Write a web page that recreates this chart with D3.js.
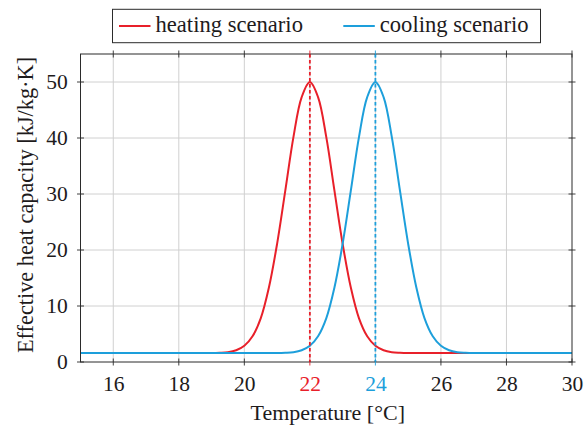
<!DOCTYPE html>
<html>
<head>
<meta charset="utf-8">
<script src="https://cdn.jsdelivr.net/npm/d3@7/dist/d3.min.js"></script>
<style>
  html, body { margin: 0; padding: 0; background: #fff; }
  svg { display: block; }
</style>
</head>
<body>
<svg id="chart" width="584" height="427" font-family="Liberation Serif"></svg>
<script>
// Temperature samples [°C], 0.25 K apart
const temperatures = d3.range(15, 30.0001, 0.25);

// Effective heat capacity [kJ/kg·K] for each temperature sample
const heatingCapacity = [
  1.6, 1.6, 1.6, 1.6, 1.6, 1.6, 1.6, 1.6, 1.6, 1.6, 1.6, 1.6, 1.6, 1.6, 1.6, 1.6, 1.6,
  1.65, 1.76, 2.1, 2.9, 4.6, 7.8, 13.3, 21.1, 30.6, 40.2, 47.3,
  50,
  47.3, 40.2, 30.6, 21.1, 13.3, 7.8, 4.6, 2.9, 2.1, 1.76, 1.65,
  1.6, 1.6, 1.6, 1.6, 1.6, 1.6, 1.6, 1.6, 1.6, 1.6, 1.6, 1.6, 1.6, 1.6, 1.6, 1.6, 1.6, 1.6, 1.6, 1.6, 1.6
];
const coolingCapacity = [
  1.6, 1.6, 1.6, 1.6, 1.6, 1.6, 1.6, 1.6, 1.6, 1.6, 1.6, 1.6, 1.6, 1.6, 1.6, 1.6, 1.6,
  1.6, 1.6, 1.6, 1.6, 1.6, 1.6, 1.6, 1.6,
  1.65, 1.76, 2.1, 2.9, 4.6, 7.8, 13.3, 21.1, 30.6, 40.2, 47.3,
  50,
  47.3, 40.2, 30.6, 21.1, 13.3, 7.8, 4.6, 2.9, 2.1, 1.76, 1.65,
  1.6, 1.6, 1.6, 1.6, 1.6, 1.6, 1.6, 1.6, 1.6, 1.6, 1.6, 1.6, 1.6
];

// Peak temperatures of the two scenarios
const heatingPeak = 22;
const coolingPeak = 24;

const xTicks = [16, 18, 20, 22, 24, 26, 28, 30];
const yTicks = [0, 10, 20, 30, 40, 50];
const seriesNames = ["heating scenario", "cooling scenario"];

const red = "#e8202a";
const blue = "#1d9fdb";
const frame = "#2b2b2b";
const ink = "#1e1b1c";
const FONT = "Liberation Serif";

const svg = d3.select("#chart");
const plotLeft = 80.5, plotRight = 572, plotTop = 54, plotBottom = 362;

const x = d3.scaleLinear().domain([15, 30]).range([plotLeft, plotRight]);
const y = d3.scaleLinear().domain([0, 55]).range([plotBottom, plotTop]);

// grid
const grid = svg.append("g").attr("stroke", "#d0d0d0").attr("stroke-width", 1);
grid.selectAll(".gx").data(xTicks.filter(t => t < 30)).join("line")
  .attr("x1", d => x(d)).attr("x2", d => x(d)).attr("y1", plotTop).attr("y2", plotBottom);
grid.selectAll(".gy").data(yTicks.filter(t => t > 0)).join("line")
  .attr("x1", plotLeft).attr("x2", plotRight).attr("y1", d => y(d)).attr("y2", d => y(d));

// curves
const line = d3.line()
  .x((d, i) => x(temperatures[i]))
  .y(d => y(d))
  .curve(d3.curveCatmullRom.alpha(0.5));

svg.append("path").datum(heatingCapacity)
  .attr("d", line).attr("fill", "none").attr("stroke", red).attr("stroke-width", 2);
svg.append("path").datum(coolingCapacity)
  .attr("d", line).attr("fill", "none").attr("stroke", blue).attr("stroke-width", 2);

// peak markers
[[heatingPeak, red], [coolingPeak, blue]].forEach(([t, c]) => {
  svg.append("line")
    .attr("x1", x(t)).attr("x2", x(t)).attr("y1", plotTop).attr("y2", plotBottom)
    .attr("stroke", c).attr("stroke-width", 1.8).attr("stroke-dasharray", "3.6,2.4");
});

// frame
svg.append("rect")
  .attr("x", plotLeft).attr("y", plotTop).attr("width", plotRight - plotLeft).attr("height", plotBottom - plotTop)
  .attr("fill", "none").attr("stroke", frame).attr("stroke-width", 1);

// axes
const tickColor = (t) => t === heatingPeak ? red : (t === coolingPeak ? blue : frame);
const xAxisB = d3.axisBottom(x).tickValues(xTicks).tickSize(0).tickPadding(13.5).tickFormat(d3.format("d"));
const gxb = svg.append("g").attr("transform", `translate(0,${plotBottom})`).call(xAxisB)
  .attr("font-family", FONT).attr("font-size", 21.5);
gxb.select(".domain").remove();
gxb.selectAll("text").attr("fill", d => d === heatingPeak ? red : (d === coolingPeak ? blue : ink));

const yAxisL = d3.axisLeft(y).tickValues(yTicks).tickSize(0).tickPadding(12.8).tickFormat(d3.format("d"));
const gyl = svg.append("g").attr("transform", `translate(${plotLeft},0)`).call(yAxisL)
  .attr("font-family", FONT).attr("font-size", 21.5);
gyl.select(".domain").remove();
gyl.selectAll("text").attr("fill", ink);

// tick marks crossing the frame on all sides
const tk = svg.append("g").attr("stroke", frame).attr("stroke-width", 0.9);
xTicks.forEach(t => {
  [plotTop, plotBottom].forEach(yy => {
    tk.append("line").attr("x1", x(t)).attr("x2", x(t)).attr("y1", yy - 3.5).attr("y2", yy + 3.5)
      .attr("stroke", tickColor(t));
  });
});
yTicks.forEach(t => {
  [plotLeft, plotRight].forEach(xx => {
    tk.append("line").attr("x1", xx - 3.5).attr("x2", xx + 3.5).attr("y1", y(t)).attr("y2", y(t));
  });
});

// axis titles
svg.append("text").attr("x", (plotLeft + plotRight) / 2 + 1.5).attr("y", 419.5)
  .attr("font-family", FONT).attr("fill", ink)
  .attr("text-anchor", "middle").attr("font-size", 22).text("Temperature [°C]");
svg.append("text").attr("transform", "translate(32.5,205) rotate(-90)")
  .attr("font-family", FONT).attr("fill", ink)
  .attr("text-anchor", "middle").attr("font-size", 22.3).text("Effective heat capacity [kJ/kg·K]");

// legend
const lg = svg.append("g");
lg.append("rect").attr("x", 112.5).attr("y", 9.3).attr("width", 428).attr("height", 33.4)
  .attr("fill", "#fff").attr("stroke", frame).attr("stroke-width", 1);
const entries = [[seriesNames[0], red, 119], [seriesNames[1], blue, 343.3]];
entries.forEach(([name, c, lx]) => {
  lg.append("line").attr("x1", lx).attr("x2", lx + 31.5).attr("y1", 26).attr("y2", 26)
    .attr("stroke", c).attr("stroke-width", 2);
  lg.append("text").attr("x", lx + 36.5).attr("y", 31.5)
    .attr("font-family", FONT).attr("fill", ink).attr("font-size", 22.6).text(name);
});
</script>
</body>
</html>
